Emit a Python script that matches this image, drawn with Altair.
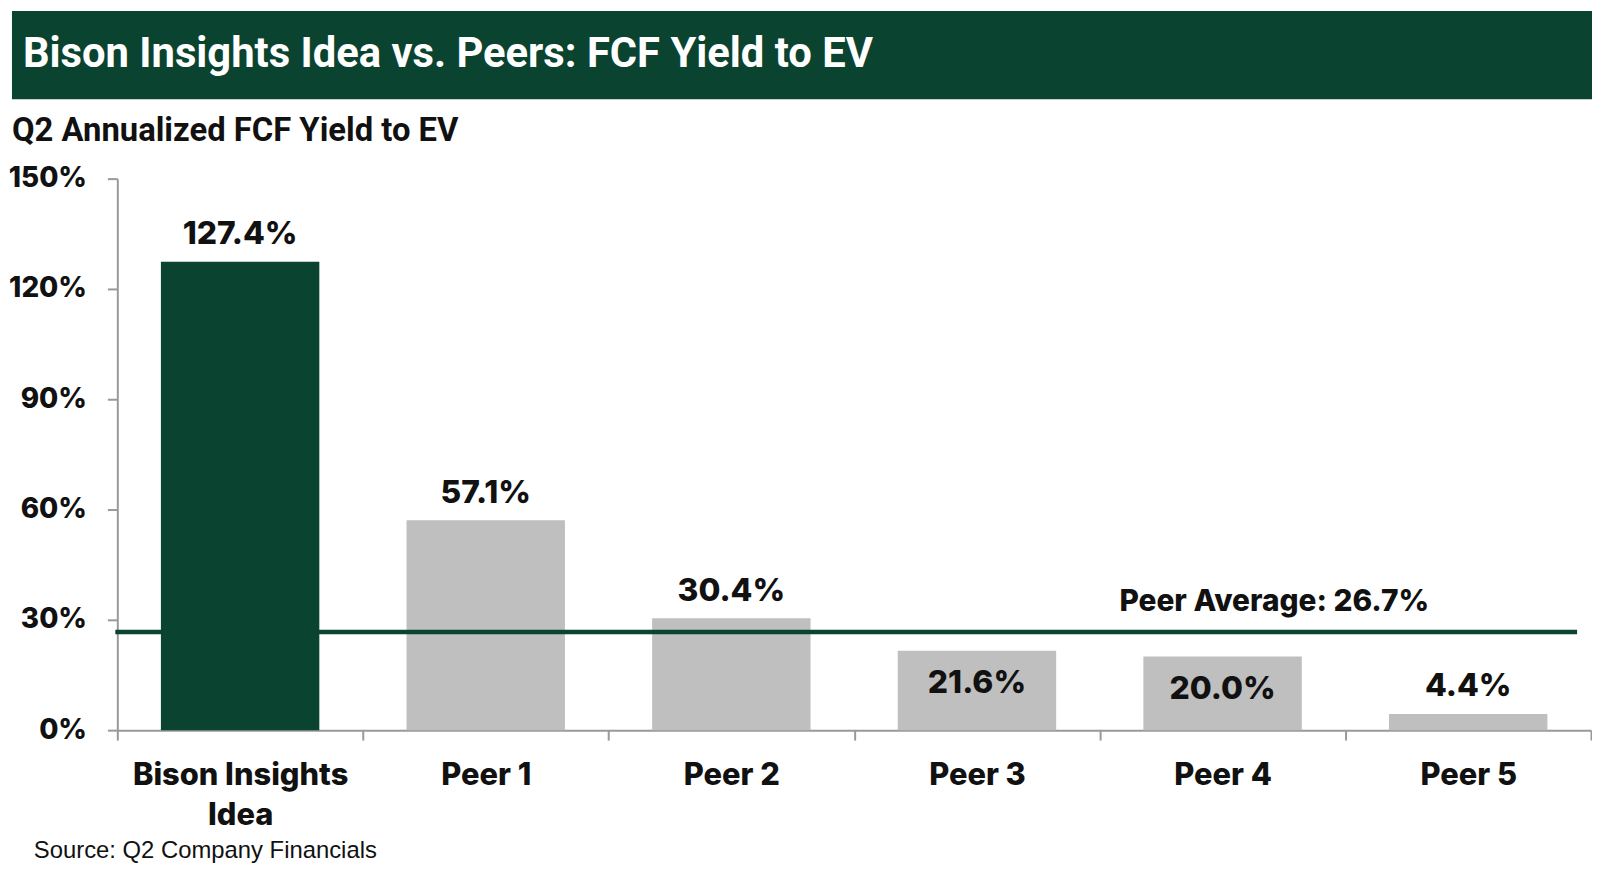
import altair as alt
import pandas as pd

# ---- data ----
categories = ["Bison Insights Idea", "Peer 1", "Peer 2", "Peer 3", "Peer 4", "Peer 5"]
values = [127.4, 57.1, 30.4, 21.6, 20.0, 4.4]
groups = ["idea", "peer", "peer", "peer", "peer", "peer"]
y_ticks = [0, 30, 60, 90, 120, 150]
peer_avg = round(sum(values[1:]) / len(values[1:]), 1)

title_text = "Bison Insights Idea vs. Peers: FCF Yield to EV"
subtitle_text = "Q2 Annualized FCF Yield to EV"
source_text = "Source: Q2 Company Financials"
avg_text = f"Peer Average: {peer_avg:.1f}%"

GREEN = "#0B4331"
GRAY = "#BFBFBF"
AXIS = "#999999"
INK = "#111111"
BOLD_FONT = "Inter"
HEAVY = 800

W, H = 1483, 555

df = pd.DataFrame({"cat": categories, "value": values, "group": groups})

x_enc = alt.X(
    "cat:N",
    sort=categories,
    title=None,
    scale=alt.Scale(paddingInner=0, paddingOuter=0),
    axis=alt.Axis(
        labelAngle=0,
        tickBand="extent",
        labelExpr="datum.value == 'Bison Insights Idea' ? ['Bison Insights', 'Idea'] : datum.value",
        labelFont=BOLD_FONT,
        labelFontSize=31,
        labelFontWeight=HEAVY,
        labelColor=INK,
        labelLineHeight=40,
        labelLimit=500,
        labelPadding=21,
        labelBaseline="top",
        tickSize=10,
        tickColor=AXIS,
        tickWidth=2,
        domainColor=AXIS,
        domainWidth=2,
    ),
)

y_enc = alt.Y(
    "value:Q",
    title=None,
    scale=alt.Scale(domain=[0, 150], nice=False),
    axis=alt.Axis(
        values=y_ticks,
        labelExpr="datum.value + '%'",
        grid=False,
        labelFont=BOLD_FONT,
        labelFontSize=28,
        labelFontWeight=HEAVY,
        labelColor=INK,
        labelPadding=21,
        tickSize=10,
        tickColor=AXIS,
        tickWidth=2,
        domainColor=AXIS,
        domainWidth=2,
    ),
)

base = alt.Chart(df)

bars = base.mark_bar(width=alt.RelativeBandSize(0.645)).encode(
    x=x_enc,
    y=y_enc,
    color=alt.Color(
        "group:N",
        scale=alt.Scale(domain=["idea", "peer"], range=[GREEN, GRAY]),
        legend=None,
    ),
)

bar_labels = (
    base.transform_calculate(
        label_y=f"datum.value > 10 && datum.value < {peer_avg} ? datum.value - 11.6 : datum.value + 4.8",
        label="format(datum.value, '.1f') + '%'",
    )
    .mark_text(font=BOLD_FONT, fontSize=32, fontWeight=HEAVY, color=INK,
               baseline="alphabetic", align="center")
    .encode(
        x=alt.X("cat:N", sort=categories),
        y=alt.Y("label_y:Q"),
        text="label:N",
    )
)

avg_df = pd.DataFrame({"cat": ["Peer 4"], "avg": [peer_avg], "label": [avg_text]})

avg_rule = alt.Chart(avg_df).mark_rule(color=GREEN, strokeWidth=4.5).encode(
    y="avg:Q", x=alt.value(-2), x2=alt.value(W - 14)
)

avg_label = alt.Chart(avg_df).mark_text(
    font=BOLD_FONT, fontSize=30, fontWeight=HEAVY, color=INK,
    baseline="alphabetic", align="center", dx=52, dy=-21,
).encode(x=alt.X("cat:N", sort=categories), y="avg:Q", text="label:N")

text_df = pd.DataFrame({"t": [title_text], "s": [subtitle_text], "src": [source_text]})

banner = alt.Chart(text_df).mark_rect(color=GREEN).encode(
    x=alt.value(-106), x2=alt.value(1484), y=alt.value(-168.7), y2=alt.value(-80)
)

title = alt.Chart(text_df).mark_text(
    font="Roboto", fontSize=42, fontWeight="bold", color="white",
    align="left", baseline="alphabetic",
).encode(x=alt.value(-95), y=alt.value(-112.2), text="t:N")

subtitle = alt.Chart(text_df).mark_text(
    font="Roboto", fontSize=33, fontWeight="bold", color=INK,
    align="left", baseline="alphabetic",
).encode(x=alt.value(-106), y=alt.value(-38), text="s:N")

source = alt.Chart(text_df).mark_text(
    font="Liberation Sans", fontSize=24, color=INK,
    align="left", baseline="alphabetic",
).encode(x=alt.value(-84), y=alt.value(684), text="src:N")

chart = (
    alt.layer(banner, bars, avg_rule, bar_labels, avg_label, title, subtitle, source)
    .properties(width=W, height=H, padding=0, background="white")
    .configure_view(stroke=None)
)

chart.save("out.html", embed_options={"renderer": "svg", "actions": False})
